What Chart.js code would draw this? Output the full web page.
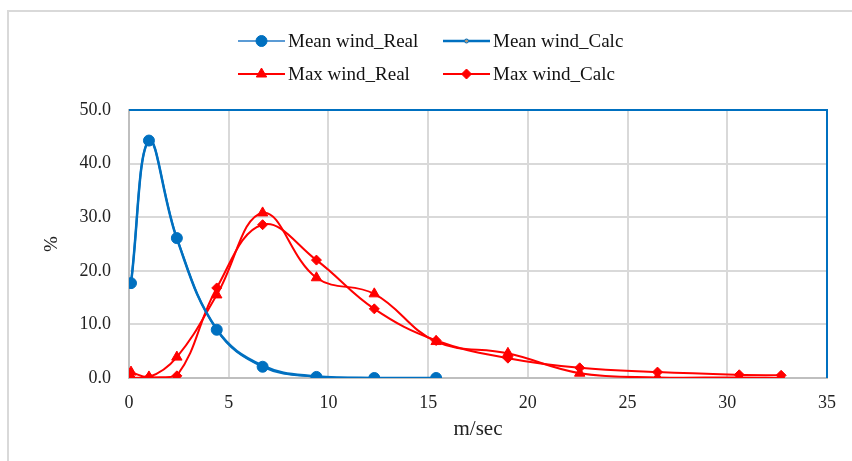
<!DOCTYPE html>
<html>
<head>
<meta charset="utf-8">
<script src="https://cdn.jsdelivr.net/npm/chart.js@4/dist/chart.umd.min.js"></script>
<style>
  html, body { margin: 0; padding: 0; background: #fff; }
  #wrap { width: 852px; height: 461px; }
</style>
</head>
<body>
<div id="wrap"><canvas id="myChart" width="852" height="461"></canvas></div>
<script>
// wind speed classes (m/sec)
const meanSpeed = [0.1, 1.0, 2.4, 4.4, 6.7, 9.4, 12.3, 15.4];
const maxSpeed = [0.1, 1.0, 2.4, 4.4, 6.7, 9.4, 12.3, 15.4, 19.0, 22.6, 26.5, 30.6, 32.7];

// frequency (%)
const meanReal = [17.7, 44.3, 26.1, 9.0, 2.1, 0.2, 0.0, 0.0];
const meanCalc = [17.7, 44.3, 26.0, 9.1, 2.3, 0.3, 0.0, 0.0];
const maxReal = [1.1, 0.2, 3.9, 15.5, 30.8, 18.7, 15.7, 6.8, 4.6, 0.9, 0.1, 0.1, 0.0];
const maxCalc = [0.0, 0.1, 0.4, 16.8, 28.6, 22.0, 12.9, 7.0, 3.7, 1.9, 1.1, 0.6, 0.5];

const xTicks = [0, 5, 10, 15, 20, 25, 30, 35];
const yTicks = [0, 10, 20, 30, 40, 50];

const blue = '#0070C0';
const red = '#FF0000';
const serif = "'Liberation Serif', 'Times New Roman', serif";

function pts(xs, ys) {
  return xs.map((x, i) => ({ x: x, y: ys[i] }));
}

// white background, outer frame, blue top/right frame, legend
const decor = {
  id: 'decor',
  beforeDraw(chart) {
    const c = chart.ctx;
    c.save();
    c.fillStyle = '#fff';
    c.fillRect(0, 0, chart.width, chart.height);
    c.strokeStyle = '#d9d9d9';
    c.lineWidth = 2;
    c.beginPath();
    c.moveTo(8, chart.height);
    c.lineTo(8, 11);
    c.lineTo(chart.width, 11);
    c.stroke();
    c.restore();
  },
  afterDraw(chart) {
    const c = chart.ctx;
    const a = chart.chartArea;
    c.save();
    c.strokeStyle = blue;
    c.lineWidth = 2;
    c.beginPath();
    c.moveTo(a.left, a.top);
    c.lineTo(a.right, a.top);
    c.lineTo(a.right, a.bottom);
    c.stroke();

    // legend, two columns x two rows
    const cols = [238, 443];
    const rows = [41, 74];
    c.font = '19px ' + serif;
    c.textBaseline = 'middle';
    chart.data.datasets.forEach((ds, i) => {
      const x = cols[i % 2];
      const y = rows[Math.floor(i / 2)];
      c.strokeStyle = ds.legendLine || ds.borderColor;
      c.lineWidth = ds.borderWidth;
      c.beginPath();
      c.moveTo(x, y);
      c.lineTo(x + 47, y);
      c.stroke();
      c.fillStyle = ds.pointBackgroundColor;
      c.strokeStyle = ds.pointBorderColor;
      c.lineWidth = ds.pointBorderWidth;
      Chart.helpers.drawPoint(c, {
        pointStyle: ds.pointStyle,
        radius: ds.pointRadius,
        borderWidth: ds.pointBorderWidth,
        rotation: 0
      }, x + 23.5, y);
      c.fillStyle = '#111';
      c.fillText(ds.label, x + 50, y + 1);
    });
    c.restore();
  }
};

new Chart(document.getElementById('myChart'), {
  type: 'line',
  data: {
    datasets: [
      {
        label: 'Mean wind_Real',
        data: pts(meanSpeed, meanReal),
        borderColor: blue,
        legendLine: '#5B9BD5',
        borderWidth: 2,
        pointStyle: 'circle',
        pointRadius: 5.5,
        pointBackgroundColor: blue,
        pointBorderColor: blue,
        pointBorderWidth: 1,
        tension: 0.4
      },
      {
        label: 'Mean wind_Calc',
        data: pts(meanSpeed, meanCalc),
        borderColor: blue,
        borderWidth: 2.5,
        pointStyle: 'circle',
        pointRadius: 2,
        pointBackgroundColor: '#b89a78',
        pointBorderColor: blue,
        pointBorderWidth: 1,
        tension: 0.4
      },
      {
        label: 'Max wind_Real',
        data: pts(maxSpeed, maxReal),
        borderColor: red,
        borderWidth: 2,
        pointStyle: 'triangle',
        pointRadius: 6,
        pointBackgroundColor: red,
        pointBorderColor: red,
        pointBorderWidth: 1,
        tension: 0.4
      },
      {
        label: 'Max wind_Calc',
        data: pts(maxSpeed, maxCalc),
        borderColor: red,
        borderWidth: 2,
        pointStyle: 'rectRot',
        pointRadius: 5,
        pointBackgroundColor: red,
        pointBorderColor: red,
        pointBorderWidth: 1,
        tension: 0.4
      }
    ]
  },
  options: {
    responsive: false,
    animation: false,
    layout: { padding: { top: 110, right: 25, bottom: 15, left: 0 } },
    plugins: {
      legend: { display: false },
      tooltip: { enabled: false }
    },
    scales: {
      x: {
        type: 'linear',
        min: xTicks[0],
        max: xTicks[xTicks.length - 1],
        afterBuildTicks: s => { s.ticks = xTicks.map(v => ({ value: v })); },
        afterFit: s => { s.height = 68; },
        grid: { color: '#d9d9d9', lineWidth: 2, drawTicks: false },
        border: { color: '#bfbfbf', width: 2 },
        ticks: { padding: 14, color: '#222', font: { family: serif, size: 18 } },
        title: {
          display: true,
          text: 'm/sec',
          color: '#222',
          padding: { top: 4, bottom: 4 },
          font: { family: serif, size: 21 }
        }
      },
      y: {
        min: yTicks[0],
        max: yTicks[yTicks.length - 1],
        afterBuildTicks: s => { s.ticks = yTicks.map(v => ({ value: v })); },
        afterFit: s => { s.width = 129; },
        grid: { color: '#d9d9d9', lineWidth: 2, drawTicks: false },
        border: { color: '#bfbfbf', width: 2 },
        ticks: {
          padding: 18,
          color: '#222',
          font: { family: serif, size: 18 },
          callback: v => v.toFixed(1)
        },
        title: {
          display: true,
          text: '%',
          color: '#222',
          padding: { top: 41, bottom: 0 },
          font: { family: serif, size: 19 }
        }
      }
    }
  },
  plugins: [decor]
});
</script>
</body>
</html>
